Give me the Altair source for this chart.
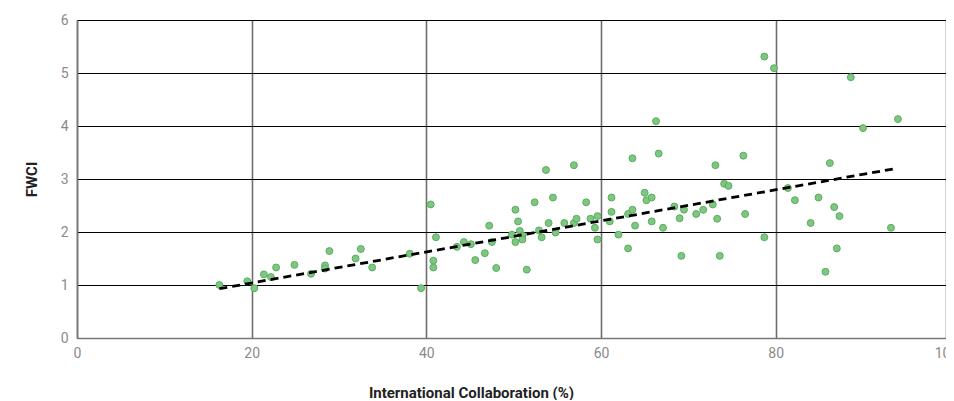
import altair as alt
import pandas as pd

# International Collaboration (%) and FWCI
collab = [16.3, 19.5, 20.3, 21.4, 22.2, 22.8, 24.9, 26.8, 28.4, 28.4, 28.9, 31.9, 32.5, 33.8,
          38.1, 39.4, 40.5, 41.1, 40.8, 40.8, 43.5, 44.3, 45.1, 45.6, 46.7, 47.2, 47.5, 48.0,
          50.2, 50.5, 49.8, 50.2, 50.7, 51.0, 51.0, 51.5, 52.4, 52.9, 53.2, 54.0, 54.5, 54.8,
          53.7, 56.9, 55.8, 56.9, 57.2, 58.3, 58.8, 59.6, 59.3, 59.6, 61.2, 61.2, 61.0, 62.0,
          63.1, 63.1, 63.6, 63.9, 63.6, 66.6, 65.0, 65.2, 65.8, 65.8, 67.1, 68.4, 69.5, 69.0,
          69.2, 70.9, 66.3, 73.1, 76.3, 71.7, 72.8, 73.3, 73.6, 74.1, 74.6, 76.5, 78.7, 81.4,
          82.2, 78.7, 79.8, 88.6, 94.0, 90.0, 86.2, 84.9, 86.7, 87.3, 84.0, 93.2, 87.0, 85.7]
fwci = [1.00, 1.07, 0.94, 1.20, 1.15, 1.33, 1.38, 1.21, 1.37, 1.31, 1.64, 1.50, 1.68, 1.33,
        1.59, 0.94, 2.52, 1.90, 1.46, 1.33, 1.72, 1.81, 1.77, 1.47, 1.60, 2.12, 1.81, 1.32,
        2.42, 2.20, 1.95, 1.81, 2.02, 1.93, 1.86, 1.29, 2.56, 2.03, 1.90, 2.17, 2.65, 1.99,
        3.17, 3.26, 2.17, 2.17, 2.25, 2.56, 2.25, 2.30, 2.08, 1.86, 2.65, 2.38, 2.20, 1.95,
        1.69, 2.34, 2.42, 2.12, 3.39, 3.48, 2.74, 2.60, 2.65, 2.20, 2.08, 2.48, 2.42, 2.26,
        1.55, 2.34, 4.09, 3.26, 3.44, 2.42, 2.52, 2.25, 1.55, 2.91, 2.87, 2.34, 1.90, 2.83,
        2.60, 5.31, 5.09, 4.92, 4.13, 3.96, 3.30, 2.65, 2.47, 2.30, 2.17, 2.08, 1.69, 1.25]

# Trend line end points
trend_x = [16.3, 93.8]
trend_y = [0.93, 3.20]

# the right-most tick ("100") sits on the (slightly cropped) right edge of the plot
x_ticks = [0, 20, 40, 60, 80, 99.5]
y_ticks = [0, 1, 2, 3, 4, 5, 6]

df = pd.DataFrame({"collab": collab, "fwci": fwci})
tdf = pd.DataFrame({"collab": trend_x, "fwci": trend_y})

FONT = "Roboto"

x_enc = alt.X("collab:Q", scale=alt.Scale(domain=[0, 99.5], nice=False),
              axis=alt.Axis(values=x_ticks, title="International Collaboration (%)",
                            labelExpr="datum.value > 99 ? '100' : datum.label",
                            grid=True, gridColor="#6e6e6e", gridWidth=1.6,
                            domainColor="#777777", domainWidth=1.5, ticks=False,
                            labelPadding=8, labelFontSize=14, labelColor="#8a8a8a", labelFont=FONT,
                            labelFlush=False, labelOverlap=False,
                            titleFont=FONT, titleFontSize=15, titleFontWeight="bold", titleColor="#222222",
                            titleX=394, titleY=54, titleBaseline="middle"))
y_enc = alt.Y("fwci:Q", scale=alt.Scale(domain=[0, 6], nice=False),
              axis=alt.Axis(values=y_ticks, title="FWCI",
                            grid=True, gridColor="#000000", gridWidth=1,
                            domainColor="#777777", domainWidth=1.5, ticks=False,
                            labelPadding=9, labelFontSize=14, labelColor="#8a8a8a", labelFont=FONT,
                            titleFont=FONT, titleFontSize=15, titleFontWeight="bold", titleColor="#222222",
                            titleX=-46, titleY=159, titleBaseline="middle"))

points = alt.Chart(df).mark_point(filled=True, size=48, fill="#7fc682", stroke="#5aae5e",
                                  strokeWidth=1, opacity=1, fillOpacity=1).encode(x=x_enc, y=y_enc)

trend = alt.Chart(tdf).mark_line(color="#000000", strokeWidth=2.8, strokeDash=[8, 5]).encode(
    x="collab:Q", y="fwci:Q")

chart = alt.layer(points, trend).properties(
    width=869, height=318,
    autosize=alt.AutoSizeParams(type="none"),
    padding={"left": 69, "top": 12, "right": 0, "bottom": 62},
).configure_view(stroke="#777777", strokeWidth=1.5).configure(background="white")

chart.save("out.html", embed_options={"renderer": "svg", "actions": False})
